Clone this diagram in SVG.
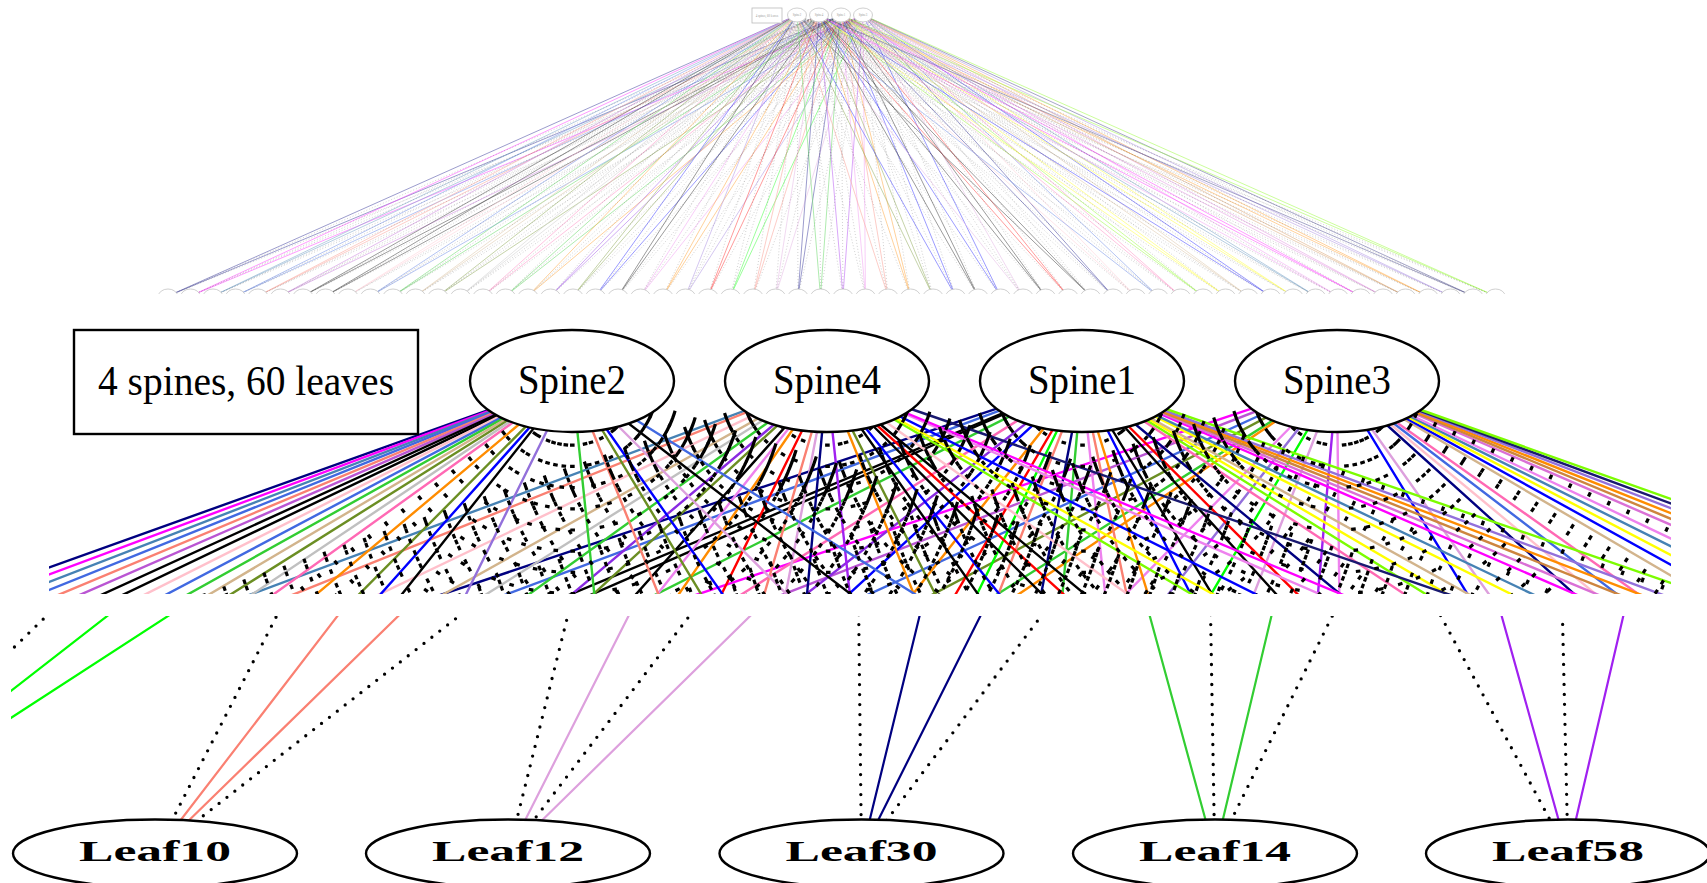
<svg xmlns="http://www.w3.org/2000/svg" width="1707" height="883" viewBox="0 0 1707 883">
<style>
.sf{font-family:"Liberation Serif","Times New Roman",serif}
.e path{vector-effect:non-scaling-stroke;fill:none}
.ovn{fill:#fff;stroke:#c4c4c4;stroke-width:0.8}
.ovt{font-size:3px;fill:#999;text-anchor:middle}
.big{fill:#fff;stroke:#000;stroke-width:2.4}
.bt{font-size:42px;fill:#000;text-anchor:middle}
.lt{font-size:30px;font-weight:bold;fill:#000;text-anchor:middle}
</style>
<defs>
<clipPath id="cTop"><rect x="0" y="0" width="1707" height="294"/></clipPath>
<clipPath id="cMid"><rect x="49" y="300" width="1622" height="294"/></clipPath>
<clipPath id="cBot"><rect x="11" y="616" width="1696" height="267"/></clipPath>
<ellipse id="lf" rx="9.5" ry="7"/>
<!-- link set in overview coordinates: spines at x 797/819/841/863 (y 15), leaves at 168 + 22.5*i (y 296) -->
<g id="sol" class="e">
<path stroke="navy" d="M797 15L168 296M841 15L168 296"/>
<path stroke="magenta" d="M797 15L190.5 296M863 15L190.5 296"/>
<path stroke="steelblue" d="M797 15L213 296M819 15L213 296"/>
<path stroke="royalblue" d="M797 15L235.5 296M841 15L235.5 296"/>
<path stroke="salmon" d="M797 15L258 296M819 15L258 296"/>
<path stroke="mediumorchid" d="M797 15L280.5 296M863 15L280.5 296"/>
<path stroke="black" d="M797 15L303 296M841 15L303 296"/>
<path stroke="black" d="M797 15L325.5 296M841 15L325.5 296"/>
<path stroke="pink" d="M797 15L348 296M819 15L348 296"/>
<path stroke="royalblue" d="M797 15L370.5 296M863 15L370.5 296"/>
<path stroke="limegreen" d="M797 15L393 296M841 15L393 296"/>
<path stroke="tan" d="M797 15L415.5 296M819 15L415.5 296"/>
<path stroke="olivedrab" d="M797 15L438 296M863 15L438 296"/>
<path stroke="silver" d="M797 15L460.5 296M819 15L460.5 296"/>
<path stroke="hotpink" d="M797 15L483 296M841 15L483 296"/>
<path stroke="limegreen" d="M819 15L505.5 296M863 15L505.5 296"/>
<path stroke="darkorange" d="M797 15L528 296M863 15L528 296"/>
<path stroke="blueviolet" d="M819 15L550.5 296M841 15L550.5 296"/>
<path stroke="olivedrab" d="M797 15L573 296M819 15L573 296"/>
<path stroke="blue" d="M797 15L595.5 296M841 15L595.5 296"/>
<path stroke="black" d="M797 15L618 296M819 15L618 296"/>
<path stroke="violet" d="M819 15L640.5 296M863 15L640.5 296"/>
<path stroke="darkorange" d="M819 15L663 296M841 15L663 296"/>
<path stroke="mediumpurple" d="M797 15L685.5 296M863 15L685.5 296"/>
<path stroke="red" d="M819 15L708 296M841 15L708 296"/>
<path stroke="lime" d="M841 15L730.5 296M863 15L730.5 296"/>
<path stroke="salmon" d="M819 15L753 296M841 15L753 296"/>
<path stroke="plum" d="M819 15L775.5 296M863 15L775.5 296"/>
<path stroke="navy" d="M819 15L798 296M841 15L798 296"/>
<path stroke="limegreen" d="M797 15L820.5 296M841 15L820.5 296"/>
<path stroke="#a020f0" d="M819 15L843 296M863 15L843 296"/>
<path stroke="violet" d="M841 15L865.5 296M863 15L865.5 296"/>
<path stroke="salmon" d="M797 15L888 296M841 15L888 296"/>
<path stroke="darkorange" d="M819 15L910.5 296M841 15L910.5 296"/>
<path stroke="olivedrab" d="M797 15L933 296M819 15L933 296"/>
<path stroke="blue" d="M797 15L955.5 296M841 15L955.5 296"/>
<path stroke="black" d="M819 15L978 296M841 15L978 296"/>
<path stroke="blue" d="M819 15L1000.5 296M863 15L1000.5 296"/>
<path stroke="plum" d="M797 15L1023 296M863 15L1023 296"/>
<path stroke="black" d="M819 15L1045.5 296M841 15L1045.5 296"/>
<path stroke="red" d="M819 15L1068 296M841 15L1068 296"/>
<path stroke="black" d="M797 15L1090.5 296M819 15L1090.5 296"/>
<path stroke="navy" d="M841 15L1113 296M863 15L1113 296"/>
<path stroke="pink" d="M819 15L1135.5 296M863 15L1135.5 296"/>
<path stroke="royalblue" d="M797 15L1158 296M863 15L1158 296"/>
<path stroke="hotpink" d="M841 15L1180.5 296M863 15L1180.5 296"/>
<path stroke="lawngreen" d="M819 15L1203 296M841 15L1203 296"/>
<path stroke="yellow" d="M819 15L1225.5 296M841 15L1225.5 296"/>
<path stroke="tan" d="M841 15L1248 296M863 15L1248 296"/>
<path stroke="blue" d="M819 15L1270.5 296M863 15L1270.5 296"/>
<path stroke="yellow" d="M841 15L1293 296M863 15L1293 296"/>
<path stroke="steelblue" d="M841 15L1315.5 296M863 15L1315.5 296"/>
<path stroke="violet" d="M819 15L1338 296M863 15L1338 296"/>
<path stroke="magenta" d="M819 15L1360.5 296M841 15L1360.5 296"/>
<path stroke="orchid" d="M841 15L1383 296M863 15L1383 296"/>
<path stroke="peru" d="M841 15L1405.5 296M863 15L1405.5 296"/>
<path stroke="darkorange" d="M841 15L1428 296M863 15L1428 296"/>
<path stroke="mediumpurple" d="M841 15L1450.5 296M863 15L1450.5 296"/>
<path stroke="midnightblue" d="M819 15L1473 296M863 15L1473 296"/>
<path stroke="lawngreen" d="M841 15L1495.5 296M863 15L1495.5 296"/>
</g>
<g id="dot" class="e">
<path d="M819 15L168 296M863 15L168 296M819 15L190.5 296M841 15L190.5 296M841 15L213 296M863 15L213 296M819 15L235.5 296M863 15L235.5 296M841 15L258 296M863 15L258 296M819 15L280.5 296M841 15L280.5 296M819 15L303 296M863 15L303 296M819 15L325.5 296M863 15L325.5 296M841 15L348 296M863 15L348 296M819 15L370.5 296M841 15L370.5 296"/>
<path d="M819 15L393 296M863 15L393 296M841 15L415.5 296M863 15L415.5 296M819 15L438 296M841 15L438 296M841 15L460.5 296M863 15L460.5 296M819 15L483 296M863 15L483 296M797 15L505.5 296M841 15L505.5 296M819 15L528 296M841 15L528 296M797 15L550.5 296M863 15L550.5 296M841 15L573 296M863 15L573 296M819 15L595.5 296M863 15L595.5 296"/>
<path d="M841 15L618 296M863 15L618 296M797 15L640.5 296M841 15L640.5 296M797 15L663 296M863 15L663 296M819 15L685.5 296M841 15L685.5 296M797 15L708 296M863 15L708 296M797 15L730.5 296M819 15L730.5 296M797 15L753 296M863 15L753 296M797 15L775.5 296M841 15L775.5 296M797 15L798 296M863 15L798 296M819 15L820.5 296M863 15L820.5 296"/>
<path d="M797 15L843 296M841 15L843 296M797 15L865.5 296M819 15L865.5 296M819 15L888 296M863 15L888 296M797 15L910.5 296M863 15L910.5 296M841 15L933 296M863 15L933 296M819 15L955.5 296M863 15L955.5 296M797 15L978 296M863 15L978 296M797 15L1000.5 296M841 15L1000.5 296M819 15L1023 296M841 15L1023 296M797 15L1045.5 296M863 15L1045.5 296"/>
<path d="M797 15L1068 296M863 15L1068 296M841 15L1090.5 296M863 15L1090.5 296M797 15L1113 296M819 15L1113 296M797 15L1135.5 296M841 15L1135.5 296M819 15L1158 296M841 15L1158 296M797 15L1180.5 296M819 15L1180.5 296M797 15L1203 296M863 15L1203 296M797 15L1225.5 296M863 15L1225.5 296M797 15L1248 296M819 15L1248 296M797 15L1270.5 296M841 15L1270.5 296"/>
<path d="M797 15L1293 296M819 15L1293 296M797 15L1315.5 296M819 15L1315.5 296M797 15L1338 296M841 15L1338 296M797 15L1360.5 296M863 15L1360.5 296M797 15L1383 296M819 15L1383 296M797 15L1405.5 296M819 15L1405.5 296M797 15L1428 296M819 15L1428 296M797 15L1450.5 296M819 15L1450.5 296M797 15L1473 296M841 15L1473 296M797 15L1495.5 296M819 15L1495.5 296"/>
</g>
</defs>
<rect width="1707" height="883" fill="#fff"/>

<!-- overview of the whole fabric -->
<g id="connectors">
<g clip-path="url(#cTop)">
<use href="#sol" stroke-width="0.6" opacity="0.65"/>
<use href="#dot" stroke="#000" stroke-width="0.5" stroke-dasharray="1 2" opacity="0.35"/>
</g>
<!-- enlarged view below the spines -->
<g clip-path="url(#cMid)">
<use href="#sol" transform="matrix(11.59 0 0 9.3 -8665.23 240.5)" stroke-width="2.4"/>
<use href="#dot" transform="matrix(11.59 0 0 9.3 -8665.23 240.5)" stroke="#000" stroke-width="4.6" stroke-dasharray="3.2 18"/>
</g>
<!-- enlarged view above five leaves -->
<g clip-path="url(#cBot)">
<use href="#sol" transform="matrix(15.7 0 0 4.8 -11667.1 -567.3)" stroke-width="2.2"/>
<use href="#dot" transform="matrix(15.7 0 0 4.8 -11667.1 -567.3)" stroke="#000" stroke-width="3.3" stroke-dasharray="0 10" stroke-linecap="round"/>
</g>
</g>

<g id="overview-nodes" class="sf">
<g id="ov-title"><rect x="752" y="8" width="30" height="15" fill="#fff" stroke="#bbb" stroke-width="0.8"/><text class="ovt" x="767" y="16.5">4 spines, 60 leaves</text></g>
<g id="ov-spine2"><ellipse class="ovn" cx="797" cy="15" rx="9.5" ry="7"/><text class="ovt" x="797" y="16">Spine2</text></g>
<g id="ov-spine4"><ellipse class="ovn" cx="819" cy="15" rx="9.5" ry="7"/><text class="ovt" x="819" y="16">Spine4</text></g>
<g id="ov-spine1"><ellipse class="ovn" cx="841" cy="15" rx="9.5" ry="7"/><text class="ovt" x="841" y="16">Spine1</text></g>
<g id="ov-spine3"><ellipse class="ovn" cx="863" cy="15" rx="9.5" ry="7"/><text class="ovt" x="863" y="16">Spine3</text></g>
<g id="ov-leaves" clip-path="url(#cTop)" class="ovn">
<use href="#lf" x="168" y="296"/><use href="#lf" x="190.5" y="296"/><use href="#lf" x="213" y="296"/><use href="#lf" x="235.5" y="296"/><use href="#lf" x="258" y="296"/><use href="#lf" x="280.5" y="296"/><use href="#lf" x="303" y="296"/><use href="#lf" x="325.5" y="296"/><use href="#lf" x="348" y="296"/><use href="#lf" x="370.5" y="296"/>
<use href="#lf" x="393" y="296"/><use href="#lf" x="415.5" y="296"/><use href="#lf" x="438" y="296"/><use href="#lf" x="460.5" y="296"/><use href="#lf" x="483" y="296"/><use href="#lf" x="505.5" y="296"/><use href="#lf" x="528" y="296"/><use href="#lf" x="550.5" y="296"/><use href="#lf" x="573" y="296"/><use href="#lf" x="595.5" y="296"/>
<use href="#lf" x="618" y="296"/><use href="#lf" x="640.5" y="296"/><use href="#lf" x="663" y="296"/><use href="#lf" x="685.5" y="296"/><use href="#lf" x="708" y="296"/><use href="#lf" x="730.5" y="296"/><use href="#lf" x="753" y="296"/><use href="#lf" x="775.5" y="296"/><use href="#lf" x="798" y="296"/><use href="#lf" x="820.5" y="296"/>
<use href="#lf" x="843" y="296"/><use href="#lf" x="865.5" y="296"/><use href="#lf" x="888" y="296"/><use href="#lf" x="910.5" y="296"/><use href="#lf" x="933" y="296"/><use href="#lf" x="955.5" y="296"/><use href="#lf" x="978" y="296"/><use href="#lf" x="1000.5" y="296"/><use href="#lf" x="1023" y="296"/><use href="#lf" x="1045.5" y="296"/>
<use href="#lf" x="1068" y="296"/><use href="#lf" x="1090.5" y="296"/><use href="#lf" x="1113" y="296"/><use href="#lf" x="1135.5" y="296"/><use href="#lf" x="1158" y="296"/><use href="#lf" x="1180.5" y="296"/><use href="#lf" x="1203" y="296"/><use href="#lf" x="1225.5" y="296"/><use href="#lf" x="1248" y="296"/><use href="#lf" x="1270.5" y="296"/>
<use href="#lf" x="1293" y="296"/><use href="#lf" x="1315.5" y="296"/><use href="#lf" x="1338" y="296"/><use href="#lf" x="1360.5" y="296"/><use href="#lf" x="1383" y="296"/><use href="#lf" x="1405.5" y="296"/><use href="#lf" x="1428" y="296"/><use href="#lf" x="1450.5" y="296"/><use href="#lf" x="1473" y="296"/><use href="#lf" x="1495.5" y="296"/>
</g>
</g>

<g id="title" class="sf"><rect class="big" x="74" y="330" width="344" height="104"/><text class="bt" x="246" y="395" textLength="296" lengthAdjust="spacingAndGlyphs">4 spines, 60 leaves</text></g>
<g id="spine2" class="sf"><ellipse class="big" cx="572" cy="381" rx="102" ry="51"/><text class="bt" x="572" y="394" textLength="108" lengthAdjust="spacingAndGlyphs">Spine2</text></g>
<g id="spine4" class="sf"><ellipse class="big" cx="827" cy="381" rx="102" ry="51"/><text class="bt" x="827" y="394" textLength="108" lengthAdjust="spacingAndGlyphs">Spine4</text></g>
<g id="spine1" class="sf"><ellipse class="big" cx="1082" cy="381" rx="102" ry="51"/><text class="bt" x="1082" y="394" textLength="108" lengthAdjust="spacingAndGlyphs">Spine1</text></g>
<g id="spine3" class="sf"><ellipse class="big" cx="1337" cy="381" rx="102" ry="51"/><text class="bt" x="1337" y="394" textLength="108" lengthAdjust="spacingAndGlyphs">Spine3</text></g>

<g id="leaf10" class="sf"><ellipse class="big" cx="155" cy="853.5" rx="142" ry="34"/><text class="lt" x="155" y="861" textLength="152" lengthAdjust="spacingAndGlyphs">Leaf10</text></g>
<g id="leaf12" class="sf"><ellipse class="big" cx="508" cy="853.5" rx="142" ry="34"/><text class="lt" x="508" y="861" textLength="152" lengthAdjust="spacingAndGlyphs">Leaf12</text></g>
<g id="leaf30" class="sf"><ellipse class="big" cx="861.5" cy="853.5" rx="142" ry="34"/><text class="lt" x="861.5" y="861" textLength="152" lengthAdjust="spacingAndGlyphs">Leaf30</text></g>
<g id="leaf14" class="sf"><ellipse class="big" cx="1215" cy="853.5" rx="142" ry="34"/><text class="lt" x="1215" y="861" textLength="152" lengthAdjust="spacingAndGlyphs">Leaf14</text></g>
<g id="leaf58" class="sf"><ellipse class="big" cx="1568" cy="853.5" rx="142" ry="34"/><text class="lt" x="1568" y="861" textLength="152" lengthAdjust="spacingAndGlyphs">Leaf58</text></g>
</svg>
